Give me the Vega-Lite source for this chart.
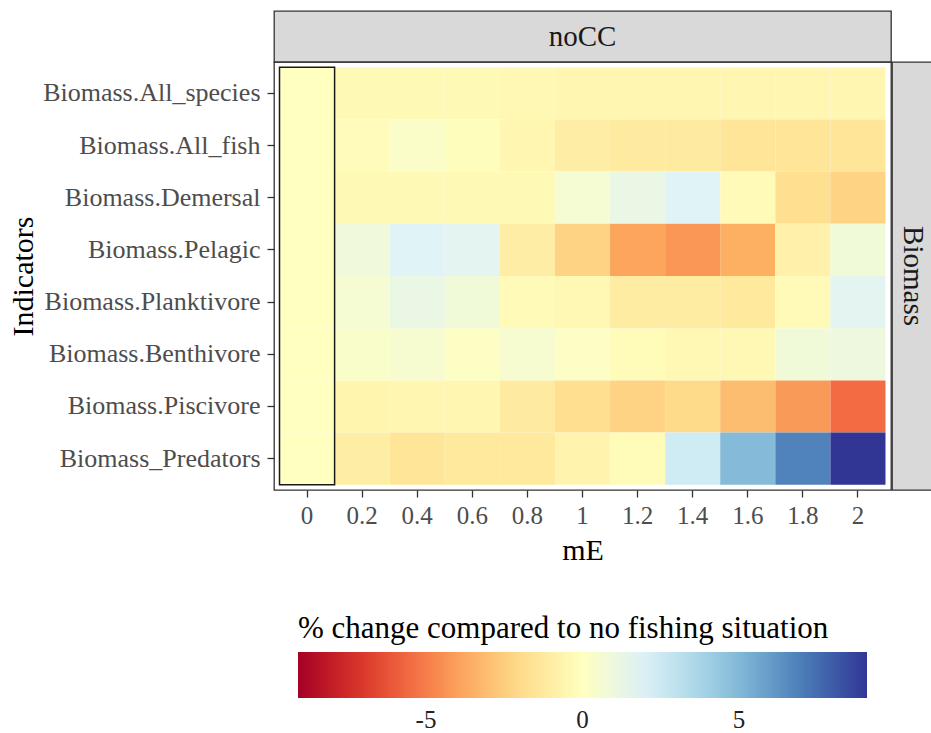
{
  "$schema": "https://vega.github.io/schema/vega-lite/v6.json",
  "padding": {"left": 7, "top": 10, "right": -2, "bottom": 0},
  "background": "white",
  "bounds": "flush",
  "spacing": 0,
  "config": {
    "font": "Liberation Serif",
    "view": {"stroke": null},
    "axis": {
      "labelFont": "Liberation Serif", "labelFontSize": 25, "labelColor": "#4d4d4d",
      "titleFont": "Liberation Serif", "titleFontSize": 30, "titleColor": "#000000", "titleFontWeight": "normal",
      "tickColor": "#333333", "tickSize": 7, "tickWidth": 1.3, "domain": false,
      "grid": false, "labelLimit": 400
    }
  },
  "vconcat": [
    {
      "width": 617, "height": 51,
      "data": {"values": [{"panel": "noCC"}]},
      "view": {"fill": "#d9d9d9", "stroke": "#333333", "strokeWidth": 1.3},
      "mark": {"type": "text", "fontSize": 29, "color": "#1a1a1a", "font": "Liberation Serif", "baseline": "middle", "align": "center"},
      "encoding": {"text": {"field": "panel", "type": "nominal"}}
    },
    {
      "bounds": "flush",
      "spacing": 1,
      "hconcat": [
        {
          "width": 617, "height": 428,
          "view": {"stroke": "#333333", "strokeWidth": 1.3},
          "layer": [
            {
              "data": {"values": [
                {"mE": 0, "Indicator": "Biomass.All_species", "change": 0},
                {"mE": 0.2, "Indicator": "Biomass.All_species", "change": -0.35},
                {"mE": 0.4, "Indicator": "Biomass.All_species", "change": -0.35},
                {"mE": 0.6, "Indicator": "Biomass.All_species", "change": -0.35},
                {"mE": 0.8, "Indicator": "Biomass.All_species", "change": -0.4},
                {"mE": 1, "Indicator": "Biomass.All_species", "change": -0.5},
                {"mE": 1.2, "Indicator": "Biomass.All_species", "change": -0.5},
                {"mE": 1.4, "Indicator": "Biomass.All_species", "change": -0.5},
                {"mE": 1.6, "Indicator": "Biomass.All_species", "change": -0.5},
                {"mE": 1.8, "Indicator": "Biomass.All_species", "change": -0.5},
                {"mE": 2, "Indicator": "Biomass.All_species", "change": -0.5},
                {"mE": 0, "Indicator": "Biomass.All_fish", "change": 0},
                {"mE": 0.2, "Indicator": "Biomass.All_fish", "change": -0.15},
                {"mE": 0.4, "Indicator": "Biomass.All_fish", "change": 0.3},
                {"mE": 0.6, "Indicator": "Biomass.All_fish", "change": -0.1},
                {"mE": 0.8, "Indicator": "Biomass.All_fish", "change": -0.5},
                {"mE": 1, "Indicator": "Biomass.All_fish", "change": -1.0},
                {"mE": 1.2, "Indicator": "Biomass.All_fish", "change": -1.2},
                {"mE": 1.4, "Indicator": "Biomass.All_fish", "change": -1.2},
                {"mE": 1.6, "Indicator": "Biomass.All_fish", "change": -1.5},
                {"mE": 1.8, "Indicator": "Biomass.All_fish", "change": -1.5},
                {"mE": 2, "Indicator": "Biomass.All_fish", "change": -1.5},
                {"mE": 0, "Indicator": "Biomass.Demersal", "change": 0},
                {"mE": 0.2, "Indicator": "Biomass.Demersal", "change": -0.35},
                {"mE": 0.4, "Indicator": "Biomass.Demersal", "change": -0.35},
                {"mE": 0.6, "Indicator": "Biomass.Demersal", "change": -0.35},
                {"mE": 0.8, "Indicator": "Biomass.Demersal", "change": -0.35},
                {"mE": 1, "Indicator": "Biomass.Demersal", "change": 0.6},
                {"mE": 1.2, "Indicator": "Biomass.Demersal", "change": 1.2},
                {"mE": 1.4, "Indicator": "Biomass.Demersal", "change": 1.8},
                {"mE": 1.6, "Indicator": "Biomass.Demersal", "change": -0.3},
                {"mE": 1.8, "Indicator": "Biomass.Demersal", "change": -1.8},
                {"mE": 2, "Indicator": "Biomass.Demersal", "change": -2.3},
                {"mE": 0, "Indicator": "Biomass.Pelagic", "change": 0},
                {"mE": 0.2, "Indicator": "Biomass.Pelagic", "change": 0.9},
                {"mE": 0.4, "Indicator": "Biomass.Pelagic", "change": 1.8},
                {"mE": 0.6, "Indicator": "Biomass.Pelagic", "change": 1.6},
                {"mE": 0.8, "Indicator": "Biomass.Pelagic", "change": -1.0},
                {"mE": 1, "Indicator": "Biomass.Pelagic", "change": -2.3},
                {"mE": 1.2, "Indicator": "Biomass.Pelagic", "change": -3.85},
                {"mE": 1.4, "Indicator": "Biomass.Pelagic", "change": -4.3},
                {"mE": 1.6, "Indicator": "Biomass.Pelagic", "change": -3.6},
                {"mE": 1.8, "Indicator": "Biomass.Pelagic", "change": -0.8},
                {"mE": 2, "Indicator": "Biomass.Pelagic", "change": 0.8},
                {"mE": 0, "Indicator": "Biomass.Planktivore", "change": 0},
                {"mE": 0.2, "Indicator": "Biomass.Planktivore", "change": 0.6},
                {"mE": 0.4, "Indicator": "Biomass.Planktivore", "change": 1.2},
                {"mE": 0.6, "Indicator": "Biomass.Planktivore", "change": 0.8},
                {"mE": 0.8, "Indicator": "Biomass.Planktivore", "change": -0.3},
                {"mE": 1, "Indicator": "Biomass.Planktivore", "change": -0.4},
                {"mE": 1.2, "Indicator": "Biomass.Planktivore", "change": -1.1},
                {"mE": 1.4, "Indicator": "Biomass.Planktivore", "change": -1.1},
                {"mE": 1.6, "Indicator": "Biomass.Planktivore", "change": -1.3},
                {"mE": 1.8, "Indicator": "Biomass.Planktivore", "change": -0.3},
                {"mE": 2, "Indicator": "Biomass.Planktivore", "change": 1.6},
                {"mE": 0, "Indicator": "Biomass.Benthivore", "change": 0},
                {"mE": 0.2, "Indicator": "Biomass.Benthivore", "change": 0.35},
                {"mE": 0.4, "Indicator": "Biomass.Benthivore", "change": 0.5},
                {"mE": 0.6, "Indicator": "Biomass.Benthivore", "change": 0.15},
                {"mE": 0.8, "Indicator": "Biomass.Benthivore", "change": 0.55},
                {"mE": 1, "Indicator": "Biomass.Benthivore", "change": 0.2},
                {"mE": 1.2, "Indicator": "Biomass.Benthivore", "change": -0.2},
                {"mE": 1.4, "Indicator": "Biomass.Benthivore", "change": -0.4},
                {"mE": 1.6, "Indicator": "Biomass.Benthivore", "change": -0.4},
                {"mE": 1.8, "Indicator": "Biomass.Benthivore", "change": 0.8},
                {"mE": 2, "Indicator": "Biomass.Benthivore", "change": 1.0},
                {"mE": 0, "Indicator": "Biomass.Piscivore", "change": 0},
                {"mE": 0.2, "Indicator": "Biomass.Piscivore", "change": -0.6},
                {"mE": 0.4, "Indicator": "Biomass.Piscivore", "change": -0.5},
                {"mE": 0.6, "Indicator": "Biomass.Piscivore", "change": -0.5},
                {"mE": 0.8, "Indicator": "Biomass.Piscivore", "change": -1.2},
                {"mE": 1, "Indicator": "Biomass.Piscivore", "change": -1.8},
                {"mE": 1.2, "Indicator": "Biomass.Piscivore", "change": -2.3},
                {"mE": 1.4, "Indicator": "Biomass.Piscivore", "change": -2.0},
                {"mE": 1.6, "Indicator": "Biomass.Piscivore", "change": -3.1},
                {"mE": 1.8, "Indicator": "Biomass.Piscivore", "change": -4.2},
                {"mE": 2, "Indicator": "Biomass.Piscivore", "change": -5.5},
                {"mE": 0, "Indicator": "Biomass_Predators", "change": 0},
                {"mE": 0.2, "Indicator": "Biomass_Predators", "change": -1.0},
                {"mE": 0.4, "Indicator": "Biomass_Predators", "change": -1.5},
                {"mE": 0.6, "Indicator": "Biomass_Predators", "change": -1.3},
                {"mE": 0.8, "Indicator": "Biomass_Predators", "change": -1.3},
                {"mE": 1, "Indicator": "Biomass_Predators", "change": -0.7},
                {"mE": 1.2, "Indicator": "Biomass_Predators", "change": -0.2},
                {"mE": 1.4, "Indicator": "Biomass_Predators", "change": 2.4},
                {"mE": 1.6, "Indicator": "Biomass_Predators", "change": 4.9},
                {"mE": 1.8, "Indicator": "Biomass_Predators", "change": 6.85},
                {"mE": 2, "Indicator": "Biomass_Predators", "change": 9.09}
              ]},
              "mark": {"type": "rect", "opacity": 1},
              "encoding": {
                "x": {
                  "field": "mE", "type": "ordinal",
                  "scale": {"paddingInner": 0, "paddingOuter": 0.1},
                  "axis": {"title": "mE", "labelAngle": 0, "labelPadding": 6, "titlePadding": 7}
                },
                "y": {
                  "field": "Indicator", "type": "nominal",
                  "scale": {"paddingInner": 0, "paddingOuter": 0.1, "domain": ["Biomass.All_species", "Biomass.All_fish", "Biomass.Demersal", "Biomass.Pelagic", "Biomass.Planktivore", "Biomass.Benthivore", "Biomass.Piscivore", "Biomass_Predators"]},
                  "axis": {"title": "Indicators", "labelFontSize": 26, "labelPadding": 7, "titlePadding": 36}
                },
                "color": {
                  "field": "change", "type": "quantitative",
                  "scale": {
                    "domain": [-9.09, -7.272, -5.454, -3.636, -1.818, 0, 1.818, 3.636, 5.454, 7.272, 9.09],
                    "range": ["#a50026", "#d73027", "#f46d43", "#fdae61", "#fee090", "#ffffbf", "#e0f3f8", "#abd9e9", "#74add1", "#4575b4", "#313695"],
                    "interpolate": "rgb"
                  },
                  "legend": {
                    "title": "% change compared to no fishing situation",
                    "orient": "none", "direction": "horizontal",
                    "legendX": 24, "legendY": 603,
                    "gradientLength": 569, "gradientThickness": 46, "gradientStrokeWidth": 0,
                    "titleFont": "Liberation Serif", "titleFontSize": 31, "titleFontWeight": "normal", "titleColor": "#000000",
                    "titlePadding": 7, "titleLimit": 800, "titleAnchor": "start",
                    "labelFont": "Liberation Serif", "labelFontSize": 25, "labelColor": "#222222", "labelOffset": 10,
                    "values": [-5, 0, 5],
                    "labelExpr": "replace(datum.label, '\u2212', '-')",
                    "padding": 0
                  }
                }
              }
            },
            {
              "data": {"values": [{"mE": 0, "top": "Biomass.All_species", "bottom": "Biomass_Predators"}]},
              "mark": {"type": "rect", "fill": null, "stroke": "#1a1a1a", "strokeWidth": 1.5},
              "encoding": {
                "x": {"field": "mE", "type": "ordinal"},
                "y": {"field": "top", "type": "nominal", "bandPosition": 0},
                "y2": {"field": "bottom", "bandPosition": 1}
              }
            }
          ]
        },
        {
          "width": 41, "height": 428,
          "data": {"values": [{"group": "Biomass"}]},
          "view": {"fill": "#d9d9d9", "stroke": "#333333", "strokeWidth": 1.3},
          "mark": {"type": "text", "fontSize": 29, "color": "#1a1a1a", "font": "Liberation Serif", "angle": 90, "baseline": "middle", "align": "center"},
          "encoding": {"text": {"field": "group", "type": "nominal"}}
        }
      ]
    }
  ]
}
